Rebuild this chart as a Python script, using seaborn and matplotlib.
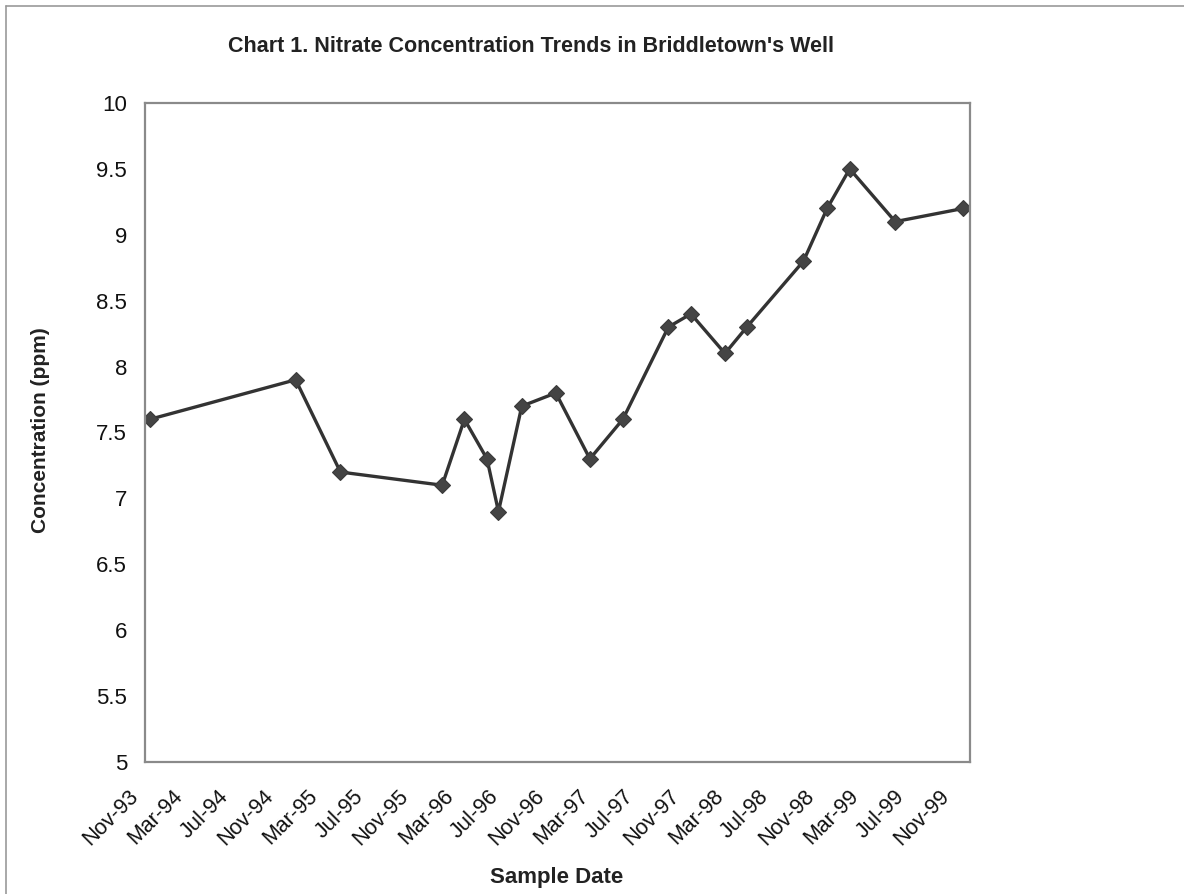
import matplotlib
matplotlib.use("Agg")
import matplotlib.pyplot as plt
import matplotlib.dates as mdates
import matplotlib.transforms as mtransforms
from matplotlib.ticker import FuncFormatter, MultipleLocator
from matplotlib.lines import Line2D
import pandas as pd
import seaborn as sns

# Sample dates and nitrate readings (ppm)
sample_dates = [
    "1993-11-14", "1994-12-13", "1995-04-13", "1996-01-13", "1996-03-13",
    "1996-05-13", "1996-06-13", "1996-08-15", "1996-11-15", "1997-02-15",
    "1997-05-15", "1997-09-15", "1997-11-15", "1998-02-15", "1998-04-15",
    "1998-09-15", "1998-11-18", "1999-01-18", "1999-05-21", "1999-11-21",
]
nitrate_ppm = [
    7.6, 7.9, 7.2, 7.1, 7.6,
    7.3, 6.9, 7.7, 7.8, 7.3,
    7.6, 8.3, 8.4, 8.1, 8.3,
    8.8, 9.2, 9.5, 9.1, 9.2,
]

title_text = "Chart 1. Nitrate Concentration Trends in Briddletown's Well"
x_label = "Sample Date"
y_label = "Concentration (ppm)"

df = pd.DataFrame({"date": pd.to_datetime(sample_dates), "ppm": nitrate_ppm})

sns.set_style("white")
plt.rcParams["font.family"] = ["Liberation Sans", "DejaVu Sans"]

fig = plt.figure(figsize=(11.84, 8.94), dpi=100)
ax = fig.add_axes([145 / 1184, 1 - 762 / 894, 825 / 1184, 659 / 894])

sns.lineplot(
    data=df, x="date", y="ppm", ax=ax,
    color="#333333", linewidth=2.4,
    marker="D", markersize=8.5, markerfacecolor="#444444",
    markeredgecolor="#3a3a3a", markeredgewidth=0.8,
)

ax.set_xlim(pd.Timestamp("1993-11-01"), pd.Timestamp("1999-12-09"))
ax.set_ylim(5, 10)

ax.xaxis.set_major_locator(mdates.MonthLocator(bymonth=[3, 7, 11], bymonthday=1))
ax.xaxis.set_major_formatter(mdates.DateFormatter("%b-%y"))
ax.yaxis.set_major_locator(MultipleLocator(0.5))
ax.yaxis.set_major_formatter(FuncFormatter(lambda v, p: f"{v:g}"))

for spine in ax.spines.values():
    spine.set_visible(True)
    spine.set_color("#8a8a8a")
    spine.set_linewidth(1.6)

ax.tick_params(axis="both", direction="out", length=6, width=1.0,
               color="#666666", labelcolor="#111111", pad=4)
ax.tick_params(axis="y", labelsize=16, pad=7)
ax.tick_params(axis="x", labelsize=15.5)

# Rotated date labels, nudged down and to the left of their ticks
shift = mtransforms.ScaledTranslation(-17 / 100, -10 / 100, fig.dpi_scale_trans)
for lbl in ax.get_xticklabels():
    lbl.set_rotation(45)
    lbl.set_ha("right")
    lbl.set_rotation_mode("anchor")
    lbl.set_transform(lbl.get_transform() + shift)

ax.set_xlabel(x_label, fontsize=16, fontweight="bold", color="#222222")
ax.set_ylabel(y_label, fontsize=15, fontweight="bold", color="#222222")
ax.xaxis.label.set_va("center")
ax.yaxis.label.set_va("center")
ax.xaxis.set_label_coords((557 - 145) / 825, (762 - 877) / 659)
ax.yaxis.set_label_coords((40 - 145) / 825, (762 - 430) / 659)
ax.grid(False)

fig.text(531 / 1184, 1 - 47 / 894, title_text, ha="center", va="center",
         fontsize=15.5, fontweight="bold", color="#222222")

# Thin frame along the left and top edges of the chart area
fig.add_artist(Line2D([6 / 1184, 6 / 1184], [0, 1 - 6 / 894],
                      transform=fig.transFigure, color="#999999", lw=1.2))
fig.add_artist(Line2D([6 / 1184, 1], [1 - 6 / 894, 1 - 6 / 894],
                      transform=fig.transFigure, color="#999999", lw=1.2))

fig.savefig("out.png", dpi=100, facecolor="white")
